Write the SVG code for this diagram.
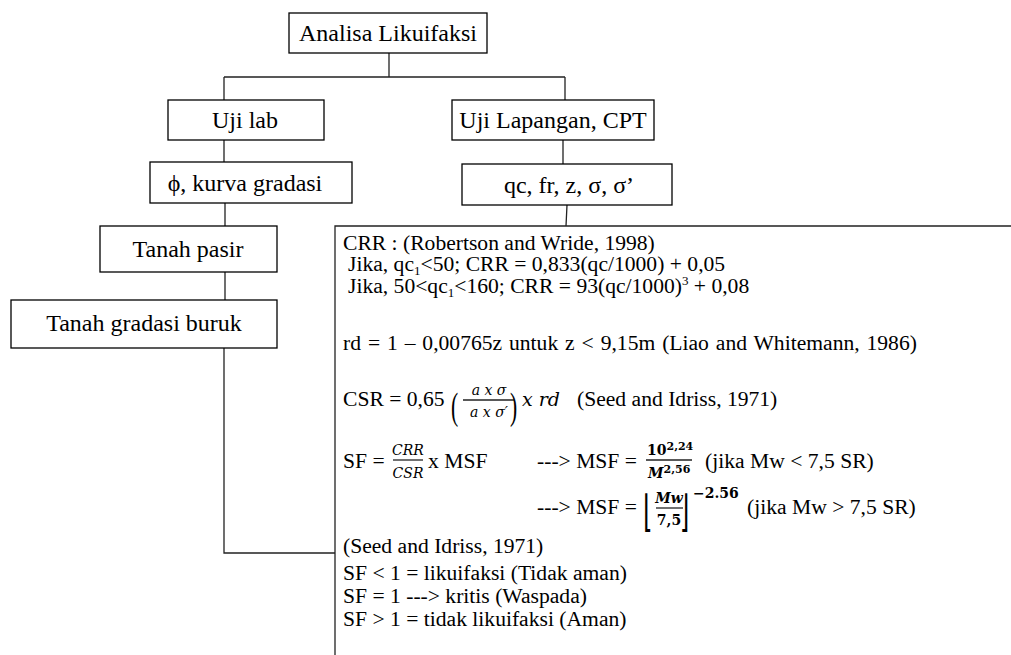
<svg xmlns="http://www.w3.org/2000/svg" width="1011" height="655" viewBox="0 0 1011 655">
<style>
.box{fill:#fff;stroke:#000;stroke-width:1.3}
.ln{fill:none;stroke:#222;stroke-width:1.3}
.bt{font-family:"Liberation Serif","Times New Roman",serif;font-size:24px;fill:#000;text-anchor:middle}
.tx{font-family:"Liberation Serif","Times New Roman",serif;font-size:21.6px;fill:#000}
.mi{font-family:"DejaVu Serif","Liberation Serif",serif;font-style:italic;font-size:14px;fill:#000}
.mn{font-family:"DejaVu Serif","Liberation Serif",serif;font-size:14px;fill:#000}
.br{font-family:"DejaVu Sans","DejaVu Serif",sans-serif;font-size:30px;fill:#000}
.bd{font-weight:bold}
.mc{text-anchor:middle}
.sub{font-size:13px}
</style>
<rect width="1011" height="655" fill="#fff"/>
<g id="connectors" class="ln">
<path d="M389 53V77M224 77H565M224 77V100M565 77V100"/>
<path d="M224 140V162M563 140V164"/>
<path d="M225 203V226M567 205L566 226"/>
<path d="M225 272V300M224 348V553H335"/>
</g>
<g id="n-analisa"><rect class="box" x="289" y="13" width="198" height="40"/><text class="bt" x="388" y="41">Analisa Likuifaksi</text></g>
<g id="n-ujilab"><rect class="box" x="168" y="100" width="156" height="40"/><text class="bt" x="245" y="128">Uji lab</text></g>
<g id="n-ujilapangan"><rect class="box" x="452" y="100" width="202" height="40"/><text class="bt" x="553" y="128">Uji Lapangan, CPT</text></g>
<g id="n-phi"><rect class="box" x="150" y="162" width="202" height="41"/><text class="bt" x="245" y="191">ϕ, kurva gradasi</text></g>
<g id="n-qc"><rect class="box" x="462" y="164" width="210" height="41"/><text class="bt" x="569" y="193">qc, fr, z, σ, σ’</text></g>
<g id="n-pasir"><rect class="box" x="100" y="226" width="177" height="46"/><text class="bt" x="188" y="257">Tanah pasir</text></g>
<g id="n-gradasi"><rect class="box" x="11" y="300" width="266" height="48"/><text class="bt" x="144" y="331">Tanah gradasi buruk</text></g>
<g id="n-formula">
<path class="ln" d="M335 655V226H1011"/>
<text class="tx" x="343" y="250">CRR : (Robertson and Wride, 1998)</text>
<text class="tx" x="348" y="271">Jika, qc<tspan class="sub" dy="4">1</tspan><tspan dy="-4">&lt;50; CRR = 0,833(qc/1000) + 0,05</tspan></text>
<text class="tx" x="348" y="293">Jika, 50&lt;qc<tspan class="sub" dy="4">1</tspan><tspan dy="-4">&lt;160; CRR = 93(qc/1000)</tspan><tspan class="sub" dy="-8">3</tspan><tspan dy="8"> + 0,08</tspan></text>
<text class="tx" x="343" y="350" word-spacing="1.5">rd = 1 – 0,00765z untuk z &lt; 9,15m (Liao and Whitemann, 1986)</text>
<text class="tx" x="343" y="406">CSR = 0,65</text>
<text class="tx" transform="translate(451,419) scale(1,1.75)" font-size="28">(</text>
<text class="mi mc" x="489" y="395">a x σ</text>
<line class="ln" x1="463" y1="400" x2="514" y2="400" stroke-width="1"/>
<text class="mi mc" x="489" y="417">a x σ′</text>
<text class="tx" transform="translate(510,419) scale(1,1.75)" font-size="28">)</text>
<text x="522" y="406" font-style="italic" font-family="DejaVu Serif, serif" font-size="19">x rd</text>
<text class="tx" x="577" y="406">(Seed and Idriss, 1971)</text>
<text class="tx" x="343" y="468">SF = </text>
<text class="mi mc" x="408" y="455">CRR</text>
<line class="ln" x1="393" y1="460" x2="423" y2="460" stroke-width="1"/>
<text class="mi mc" x="408" y="478">CSR</text>
<text class="tx" x="428" y="468">x MSF</text>
<text class="tx" x="537" y="468">---&gt; MSF = </text>
<text class="mn bd" x="647" y="455">10<tspan dy="-5" font-size="11">2,24</tspan></text>
<line class="ln" x1="646" y1="460" x2="692" y2="460" stroke-width="1"/>
<text class="mi bd" x="648" y="478">M<tspan dy="-5" font-size="11" font-style="normal">2,56</tspan></text>
<text class="tx" x="705" y="468">(jika Mw &lt; 7,5 SR)</text>
<text class="tx" x="537" y="514">---&gt; MSF = </text>
<text class="br" transform="translate(643,526) scale(0.8,1.45)">⌊</text>
<text class="mi mc bd" x="669" y="503">Mw</text>
<line class="ln" x1="656" y1="508" x2="683" y2="508" stroke-width="1"/>
<text class="mn mc bd" x="669" y="525">7,5</text>
<text class="br" transform="translate(680,526) scale(0.8,1.45)">⌋</text>
<text class="mn bd" x="693" y="498" font-size="15">−2.56</text>
<text class="tx" x="747" y="514">(jika Mw &gt; 7,5 SR)</text>
<text class="tx" x="343" y="553">(Seed and Idriss, 1971)</text>
<text class="tx" x="343" y="580">SF &lt; 1 = likuifaksi (Tidak aman)</text>
<text class="tx" x="343" y="603">SF = 1 ---&gt; kritis (Waspada)</text>
<text class="tx" x="343" y="626">SF &gt; 1 = tidak likuifaksi (Aman)</text>
</g>
</svg>
